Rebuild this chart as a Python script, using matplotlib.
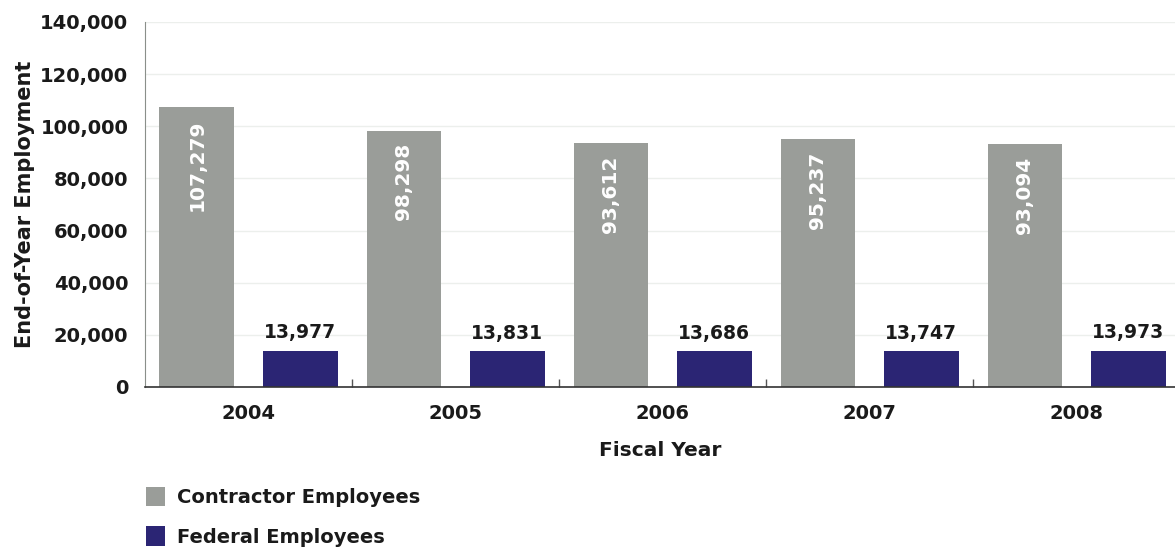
import numpy as np
import matplotlib
matplotlib.use("Agg")
import matplotlib.pyplot as plt
from matplotlib.ticker import FuncFormatter

# End-of-year employment by fiscal year
years = ["2004", "2005", "2006", "2007", "2008"]
contractor = [107279, 98298, 93612, 95237, 93094]
federal = [13977, 13831, 13686, 13747, 13973]

GRAY = "#9a9d99"
NAVY = "#2b2574"
INK = "#1a1a1a"

plt.rcParams["font.family"] = ["DejaVu Sans"]
plt.rcParams["font.weight"] = "bold"

fig = plt.figure(figsize=(11.75, 5.5), dpi=100)
ax = fig.add_axes([145 / 1175, 163 / 550, 1030 / 1175, 365 / 550])

x = np.arange(len(years))
width = 0.36
offset = 0.25

bars_c = ax.bar(x - offset, contractor, width, color=GRAY, label="Contractor Employees", zorder=2)
bars_f = ax.bar(x + offset, federal, width, color=NAVY, label="Federal Employees", zorder=2)

# contractor values written inside the bars, rotated
for b, v in zip(bars_c, contractor):
    ax.annotate(f"{v:,}", (b.get_x() + b.get_width() / 2, b.get_height()),
                xytext=(0, -9), textcoords="offset points",
                rotation=90, ha="center", va="top", color="white",
                fontsize=14.5, fontweight="bold", zorder=3)

# federal values above the bars
for b, v in zip(bars_f, federal):
    ax.annotate(f"{v:,}", (b.get_x() + b.get_width() / 2, b.get_height()),
                xytext=(0, 6), textcoords="offset points",
                ha="center", va="bottom", color=INK,
                fontsize=13.5, fontweight="bold", zorder=3)

ax.set_xlim(-0.5, 4.475)
ax.set_ylim(0, 140000)
ax.set_yticks(np.arange(0, 140001, 20000))
ax.yaxis.set_major_formatter(FuncFormatter(lambda v, p: f"{int(v):,}"))
ax.set_xticks(x)
ax.set_xticklabels(years)
ax.set_xticks(np.arange(0.5, 4.5, 1), minor=True)

ax.tick_params(axis="y", length=0, pad=12, labelsize=14, labelcolor=INK)
ax.tick_params(axis="x", which="major", length=0, pad=12, labelsize=14, labelcolor=INK)
ax.tick_params(axis="x", which="minor", direction="in", length=6, color="#555555", width=1)

ax.grid(axis="y", color="#ecefec", linewidth=1, zorder=0)
for s in ["top", "right"]:
    ax.spines[s].set_visible(False)
ax.spines["left"].set_color("#8a8f8a")
ax.spines["bottom"].set_color("#333333")
ax.spines["bottom"].set_linewidth(1.2)

ax.set_ylabel("End-of-Year Employment", fontsize=15, fontweight="bold", color=INK, labelpad=4)
ax.set_xlabel("Fiscal Year", fontsize=14.5, fontweight="bold", color=INK, labelpad=13)

fig.legend(handles=[bars_c, bars_f], loc="upper left",
           bbox_to_anchor=(128 / 1175, 1 - 469 / 550), frameon=False,
           prop={"size": 14, "weight": "bold"}, handlelength=1.0,
           handleheight=1.2, handletextpad=0.6, labelspacing=1.0,
           labelcolor=INK)

fig.savefig("out.png", dpi=100)
